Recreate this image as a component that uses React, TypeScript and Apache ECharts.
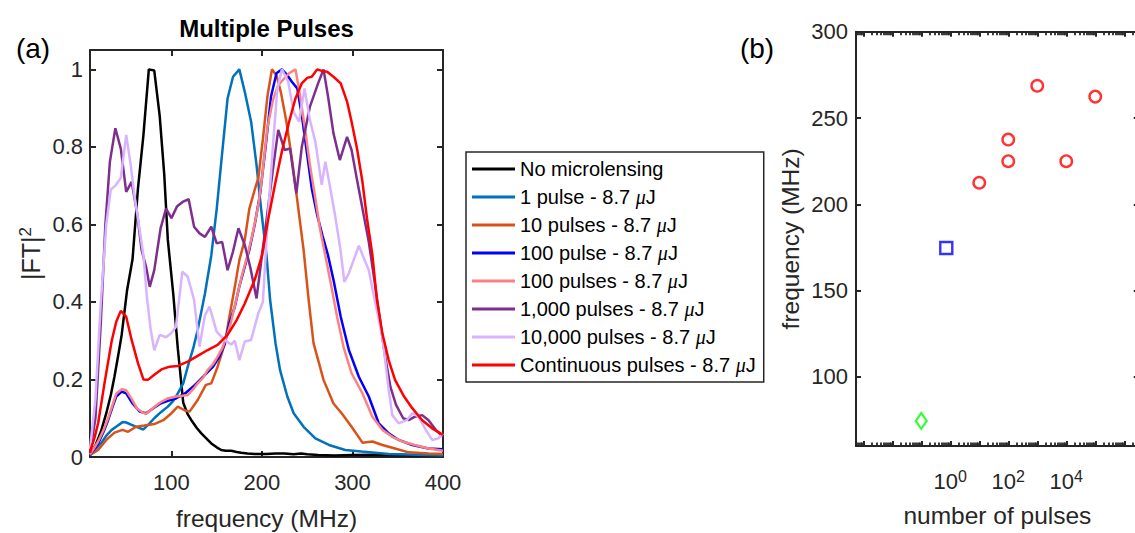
import React, { useEffect, useRef } from 'react';
import * as echarts from 'echarts';

// ---------- Panel (a): spectra |FT|^2 vs frequency (MHz) ----------
const freqTicks = [100, 200, 300, 400];
const ampTicks = [0, 0.2, 0.4, 0.6, 0.8, 1];

const seriesNames = [
  'No microlensing',
  '1 pulse - 8.7 μJ',
  '10 pulses - 8.7 μJ',
  '100 pulse - 8.7 μJ',
  '100 pulses - 8.7 μJ',
  '1,000 pulses - 8.7 μJ',
  '10,000 pulses - 8.7 μJ',
  'Continuous pulses - 8.7 μJ',
];
const seriesColors = ['#000000', '#0072BD', '#D95319', '#0000FF', '#FF8080', '#7E2F8E', '#D8B4FF', '#FF0000'];

const noMicrolensing = [
  [10, 0.01], [16, 0.03], [22, 0.065], [28, 0.113], [33, 0.16], [37, 0.207], [41, 0.26], [45, 0.315],
  [51, 0.431], [57, 0.51], [63, 0.693], [69, 0.83], [75, 1.0], [81, 0.997], [87, 0.88], [92, 0.73],
  [96, 0.56], [102, 0.42], [107, 0.28], [113, 0.14], [118, 0.11], [122, 0.095], [128, 0.075], [133, 0.061],
  [139, 0.047], [144, 0.035], [150, 0.025], [155, 0.018], [160, 0.016], [166, 0.016], [172, 0.013], [177, 0.011],
  [184, 0.009], [192, 0.008], [205, 0.008], [215, 0.009], [225, 0.009], [235, 0.007], [243, 0.009], [250, 0.007],
  [262, 0.005], [280, 0.004], [300, 0.005], [330, 0.006], [360, 0.005], [400, 0.004],
];
const onePulse = [
  [10, 0.005], [16, 0.02], [22, 0.035], [28, 0.055], [34, 0.07], [40, 0.08], [46, 0.09], [50, 0.089],
  [56, 0.083], [62, 0.077], [69, 0.071], [75, 0.085], [81, 0.1], [88, 0.115], [96, 0.13], [102, 0.145],
  [107, 0.164], [113, 0.19], [118, 0.233], [124, 0.28], [129, 0.328], [137, 0.422], [144, 0.52], [150, 0.64],
  [155, 0.76], [162, 0.925], [168, 0.981], [175, 1.0], [181, 0.942], [188, 0.865], [194, 0.753], [199, 0.641],
  [205, 0.52], [209, 0.405], [215, 0.293], [220, 0.224], [228, 0.156], [235, 0.113], [246, 0.078], [259, 0.048],
  [274, 0.031], [292, 0.018], [310, 0.014], [340, 0.008], [370, 0.006], [400, 0.004],
];
const tenPulses = [
  [10, 0.005], [19, 0.018], [28, 0.044], [37, 0.063], [46, 0.07], [52, 0.065], [61, 0.078], [70, 0.081],
  [81, 0.085], [91, 0.095], [100, 0.113], [107, 0.13], [115, 0.12], [120, 0.117], [129, 0.147], [138, 0.186],
  [144, 0.19], [151, 0.233], [159, 0.293], [164, 0.362], [170, 0.439], [175, 0.508], [181, 0.56], [186, 0.64],
  [192, 0.69], [196, 0.72], [201, 0.82], [206, 0.93], [211, 1.0], [216, 0.985], [221, 0.94], [227, 0.865],
  [233, 0.77], [238, 0.68], [242, 0.607], [246, 0.534], [252, 0.396], [257, 0.293], [263, 0.242], [268, 0.199],
  [279, 0.138], [288, 0.113], [299, 0.078], [311, 0.037], [322, 0.04], [333, 0.031], [347, 0.022], [362, 0.012],
  [384, 0.009], [400, 0.008],
];
const hundredPulse = [
  [10, 0.005], [19, 0.035], [25, 0.065], [30, 0.095], [35, 0.13], [39, 0.156], [45, 0.169], [50, 0.164],
  [57, 0.138], [65, 0.117], [72, 0.113], [80, 0.126], [87, 0.137], [96, 0.145], [105, 0.151], [115, 0.164],
  [126, 0.186], [137, 0.212], [146, 0.233], [153, 0.259], [159, 0.293], [164, 0.345], [170, 0.388], [175, 0.44],
  [181, 0.491], [186, 0.534], [192, 0.6], [198, 0.68], [204, 0.8], [210, 0.93], [216, 0.99], [222, 1.0],
  [228, 0.985], [233, 0.968], [239, 0.951], [244, 0.882], [250, 0.779], [255, 0.693], [261, 0.624], [267, 0.57],
  [273, 0.52], [279, 0.457], [287, 0.362], [296, 0.276], [307, 0.207], [318, 0.156], [329, 0.087], [340, 0.061],
  [351, 0.044], [366, 0.031], [384, 0.022], [400, 0.02],
];
const hundredPulses = [
  [10, 0.006], [19, 0.04], [25, 0.07], [30, 0.1], [35, 0.135], [39, 0.163], [45, 0.175], [50, 0.172],
  [56, 0.15], [62, 0.125], [68, 0.115], [72, 0.111], [79, 0.125], [87, 0.14], [96, 0.151], [105, 0.156],
  [112, 0.158], [118, 0.16], [124, 0.175], [129, 0.19], [135, 0.205], [140, 0.224], [146, 0.24], [151, 0.259],
  [156, 0.28], [161, 0.31], [166, 0.35], [172, 0.41], [178, 0.47], [184, 0.52], [190, 0.58], [196, 0.65],
  [200, 0.72], [206, 0.85], [212, 0.92], [218, 0.96], [224, 0.975], [230, 0.99], [237, 1.0], [242, 0.934],
  [248, 0.839], [253, 0.753], [259, 0.667], [264, 0.59], [270, 0.52], [276, 0.448], [283, 0.362], [290, 0.285],
  [299, 0.216], [311, 0.164], [322, 0.104], [333, 0.07], [344, 0.052], [355, 0.04], [369, 0.031], [384, 0.022],
  [400, 0.016],
];
const thousandPulses = [
  [10, 0.01], [16, 0.1], [22, 0.35], [27, 0.6], [32, 0.762], [38, 0.848], [44, 0.796], [50, 0.684],
  [56, 0.71], [62, 0.63], [67, 0.534], [72, 0.49], [76, 0.439], [81, 0.482], [88, 0.59], [94, 0.641],
  [100, 0.616], [106, 0.646], [113, 0.659], [119, 0.665], [125, 0.594], [131, 0.577], [137, 0.568], [144, 0.594],
  [150, 0.551], [156, 0.555], [162, 0.482], [168, 0.53], [174, 0.59], [181, 0.547], [187, 0.49], [194, 0.409],
  [200, 0.52], [206, 0.63], [212, 0.74], [218, 0.844], [225, 0.792], [231, 0.796], [238, 0.68], [244, 0.8],
  [253, 0.904], [262, 0.964], [268, 1.0], [273, 0.93], [279, 0.835], [286, 0.766], [294, 0.826], [299, 0.792],
  [305, 0.715], [312, 0.629], [318, 0.555], [324, 0.46], [330, 0.36], [336, 0.26], [342, 0.18], [348, 0.135],
  [356, 0.1], [362, 0.095], [369, 0.104], [377, 0.108], [384, 0.095], [392, 0.07], [400, 0.052],
];
const tenThousandPulses = [
  [10, 0.02], [16, 0.15], [22, 0.4], [28, 0.6], [33, 0.69], [38, 0.7], [44, 0.72], [50, 0.831],
  [55, 0.753], [59, 0.676], [64, 0.6], [69, 0.52], [73, 0.41], [77, 0.33], [81, 0.275], [87, 0.315],
  [94, 0.309], [100, 0.32], [105, 0.336], [112, 0.478], [118, 0.465], [125, 0.405], [131, 0.285], [137, 0.366],
  [142, 0.388], [150, 0.323], [159, 0.302], [166, 0.29], [170, 0.3], [175, 0.25], [181, 0.298], [188, 0.302],
  [196, 0.371], [201, 0.4], [206, 0.6], [212, 0.8], [217, 0.95], [222, 1.0], [229, 0.968], [235, 0.89],
  [241, 0.865], [247, 0.951], [253, 0.869], [259, 0.813], [266, 0.702], [270, 0.762], [275, 0.7], [281, 0.62],
  [287, 0.53], [291, 0.452], [296, 0.474], [307, 0.545], [318, 0.482], [325, 0.4], [333, 0.31], [340, 0.173],
  [344, 0.108], [351, 0.087], [360, 0.095], [366, 0.113], [373, 0.104], [381, 0.07], [388, 0.044], [395, 0.048],
  [400, 0.061],
];
const continuousPulses = [
  [10, 0.014], [15, 0.05], [19, 0.087], [26, 0.19], [34, 0.3], [39, 0.349], [44, 0.377], [50, 0.362],
  [56, 0.302], [63, 0.242], [69, 0.2], [74, 0.199], [81, 0.212], [89, 0.226], [98, 0.233], [107, 0.235],
  [118, 0.246], [129, 0.261], [140, 0.276], [151, 0.289], [162, 0.315], [172, 0.353], [181, 0.396], [192, 0.457],
  [200, 0.52], [207, 0.615], [215, 0.71], [222, 0.788], [230, 0.865], [237, 0.925], [244, 0.964], [250, 0.978],
  [255, 0.981], [261, 1.0], [266, 0.996], [272, 0.994], [279, 0.981], [287, 0.964], [294, 0.917], [299, 0.865],
  [305, 0.796], [311, 0.71], [316, 0.616], [322, 0.521], [327, 0.405], [333, 0.319], [340, 0.25], [347, 0.199],
  [357, 0.156], [366, 0.126], [377, 0.095], [388, 0.074], [400, 0.057],
];
const spectra = [
  noMicrolensing, onePulse, tenPulses, hundredPulse, hundredPulses, thousandPulses, tenThousandPulses, continuousPulses,
];

// ---------- Panel (b): peak frequency vs number of pulses ----------
const peakTicks = [100, 150, 200, 250, 300];
const pulseLabelTicks = [1, 100, 10000];
const pulseMajorTicks = [0.001, 0.01, 0.1, 1, 10, 100, 1000, 10000, 100000, 1000000];
const noLensPulses = [0.1];
const noLensPeak = [74.5];
const singlePulses = [0.73];
const singlePeak = [174.7];
const multiPulses = [10, 100, 100, 1000, 10000, 100000];
const multiPeak = [212.5, 225, 237.5, 268.7, 225, 262.4];

const FONT = "'Liberation Sans', Arial, Helvetica, sans-serif";
const AX = '#262626';

const minorPulseTicks: number[] = [];
pulseMajorTicks.concat([0.0001]).forEach((d) => {
  for (let m = 2; m <= 9; m++) minorPulseTicks.push(d * m);
});

const axisLine = { show: true, onZero: false, lineStyle: { color: AX, width: 2 } };

export default function App() {
  const ref = useRef<HTMLDivElement>(null);
  useEffect(() => {
    if (!ref.current) return;
    const chart = echarts.init(ref.current, null, { renderer: 'svg' });
    const xLog = {
      type: 'log', logBase: 10, gridIndex: 1, min: Math.pow(10, -3.25), max: Math.pow(10, 6.5),
      splitLine: { show: false },
    };
    const option: any = {
      animation: false,
      backgroundColor: '#ffffff',
      grid: [
        { left: 90, top: 50, width: 353, height: 407, outerBoundsMode: 'none' },
        { left: 856, top: 31.7, width: 282.75, height: 414.3, outerBoundsMode: 'none' },
      ],
      xAxis: [
        {
          type: 'value', gridIndex: 0, min: 10, max: 400, position: 'bottom',
          axisLine,
          axisTick: { show: true, inside: true, length: 6, customValues: freqTicks, lineStyle: { color: AX, width: 2 } },
          axisLabel: { customValues: freqTicks, fontSize: 22, fontFamily: FONT, color: AX, margin: 14 },
          splitLine: { show: false },
          name: 'frequency (MHz)', nameLocation: 'middle', nameGap: 49,
          nameTextStyle: { fontSize: 24.5, fontFamily: FONT, color: AX },
        },
        {
          type: 'value', gridIndex: 0, min: 10, max: 400, position: 'top',
          axisLine,
          axisTick: { show: true, inside: true, length: 6, customValues: freqTicks, lineStyle: { color: AX, width: 2 } },
          axisLabel: { show: false },
          splitLine: { show: false },
        },
        {
          ...xLog, position: 'bottom',
          axisLine,
          axisTick: { show: true, inside: true, length: 5, customValues: pulseMajorTicks, lineStyle: { color: AX, width: 2 } },
          axisLabel: {
            customValues: pulseLabelTicks, margin: 22, color: AX,
            formatter: (v: number) => `{b|10}{s|${Math.round(Math.log10(v))}}`,
            rich: {
              b: { fontSize: 22, fontFamily: FONT, color: AX, lineHeight: 26 },
              s: { fontSize: 16, fontFamily: FONT, color: AX, verticalAlign: 'top', lineHeight: 16 },
            },
          },
          name: 'number of pulses', nameLocation: 'middle', nameGap: 57,
          nameTextStyle: { fontSize: 24.5, fontFamily: FONT, color: AX },
        },
        {
          ...xLog, position: 'top',
          axisLine,
          axisTick: { show: true, inside: true, length: 5, customValues: pulseMajorTicks, lineStyle: { color: AX, width: 2 } },
          axisLabel: { show: false },
        },
        {
          ...xLog, position: 'bottom',
          axisLine: { show: false },
          axisTick: { show: true, inside: true, length: 3.5, customValues: minorPulseTicks, lineStyle: { color: AX, width: 1.8 } },
          axisLabel: { show: false },
        },
        {
          ...xLog, position: 'top',
          axisLine: { show: false },
          axisTick: { show: true, inside: true, length: 3.5, customValues: minorPulseTicks, lineStyle: { color: AX, width: 1.8 } },
          axisLabel: { show: false },
        },
      ],
      yAxis: [
        {
          type: 'value', gridIndex: 0, min: 0, max: 1.05, position: 'left',
          axisLine,
          axisTick: { show: true, inside: true, length: 6, customValues: ampTicks, lineStyle: { color: AX, width: 2 } },
          axisLabel: { customValues: ampTicks, fontSize: 22, fontFamily: FONT, color: AX, margin: 7 },
          splitLine: { show: false },
          name: '{a||FT|}{s|2}', nameLocation: 'middle', nameGap: 45, nameRotate: 90,
          nameTextStyle: {
            rich: {
              a: { fontSize: 25, fontFamily: FONT, color: AX, lineHeight: 28 },
              s: { fontSize: 17, fontFamily: FONT, color: AX, verticalAlign: 'top', lineHeight: 17 },
            },
          },
        },
        {
          type: 'value', gridIndex: 0, min: 0, max: 1.05, position: 'right',
          axisLine,
          axisTick: { show: true, inside: true, length: 6, customValues: ampTicks, lineStyle: { color: AX, width: 2 } },
          axisLabel: { show: false },
          splitLine: { show: false },
        },
        {
          type: 'value', gridIndex: 1, min: 60, max: 300, position: 'left',
          axisLine,
          axisTick: { show: true, inside: true, length: 5, customValues: peakTicks, lineStyle: { color: AX, width: 2 } },
          axisLabel: { customValues: peakTicks, fontSize: 22, fontFamily: FONT, color: AX, margin: 8 },
          splitLine: { show: false },
          name: 'frequency (MHz)', nameLocation: 'middle', nameGap: 53, nameRotate: 90,
          nameTextStyle: { fontSize: 24.5, fontFamily: FONT, color: AX },
        },
        {
          type: 'value', gridIndex: 1, min: 60, max: 300, position: 'right',
          axisLine,
          axisTick: { show: true, inside: true, length: 5, customValues: peakTicks, lineStyle: { color: AX, width: 2 } },
          axisLabel: { show: false },
          splitLine: { show: false },
        },
      ],
      legend: {
        data: seriesNames,
        orient: 'vertical',
        left: 466, top: 152,
        padding: [7, 8, 7, 6],
        itemGap: 8,
        itemWidth: 43, itemHeight: 3,
        icon: 'rect',
        selectedMode: false,
        backgroundColor: '#ffffff',
        borderColor: AX, borderWidth: 1.5,
        formatter: (name: string) =>
          name.indexOf('μJ') >= 0 ? `{t|${name.replace('μJ', '')}}{mu|μ}{t|J}` : `{t|${name}}`,
        textStyle: {
          rich: {
            t: { fontSize: 20, fontFamily: FONT, color: '#000', lineHeight: 24 },
            mu: { fontSize: 20, fontFamily: "'Liberation Serif', 'DejaVu Serif', serif", fontStyle: 'italic', color: '#000', lineHeight: 24 },
          },
        },
      },
      graphic: [
        { type: 'text', x: 266.5, y: 28, style: { text: 'Multiple Pulses', font: `bold 24px ${FONT}`, fill: '#000', align: 'center', verticalAlign: 'middle' } },
        { type: 'text', x: 33, y: 48, style: { text: '(a)', font: `28px ${FONT}`, fill: '#000', align: 'center', verticalAlign: 'middle' } },
        { type: 'text', x: 757, y: 48, style: { text: '(b)', font: `28px ${FONT}`, fill: '#000', align: 'center', verticalAlign: 'middle' } },
      ],
      series: [
        ...spectra.map((d, i) => ({
          type: 'line', name: seriesNames[i], xAxisIndex: 0, yAxisIndex: 0,
          data: d, showSymbol: false, symbol: 'none', color: seriesColors[i],
          lineStyle: { width: 2.5, color: seriesColors[i] }, itemStyle: { color: seriesColors[i] },
        })),
        {
          type: 'scatter', name: 'no lensing peak', xAxisIndex: 2, yAxisIndex: 2,
          data: noLensPulses.map((n, i) => [n, noLensPeak[i]]),
          symbol: 'diamond', symbolSize: [11, 16],
          itemStyle: { color: 'rgba(0,0,0,0)', borderColor: '#00FF00', borderWidth: 2.2 },
        },
        {
          type: 'scatter', name: 'single pulse peak', xAxisIndex: 2, yAxisIndex: 2,
          data: singlePulses.map((n, i) => [n, singlePeak[i]]),
          symbol: 'rect', symbolSize: 12,
          itemStyle: { color: 'rgba(0,0,0,0)', borderColor: '#0000FF', borderWidth: 2.4 },
        },
        {
          type: 'scatter', name: 'multi pulse peak', xAxisIndex: 2, yAxisIndex: 2,
          data: multiPulses.map((n, i) => [n, multiPeak[i]]),
          symbol: 'circle', symbolSize: 11.5,
          itemStyle: { color: 'rgba(0,0,0,0)', borderColor: '#FF0000', borderWidth: 2.4 },
        },
      ],
    };
    chart.setOption(option);
    return () => chart.dispose();
  }, []);
  return <div ref={ref} style={{ position: 'fixed', left: 0, top: 0, width: 1135, height: 533, background: '#fff' }} />;
}
